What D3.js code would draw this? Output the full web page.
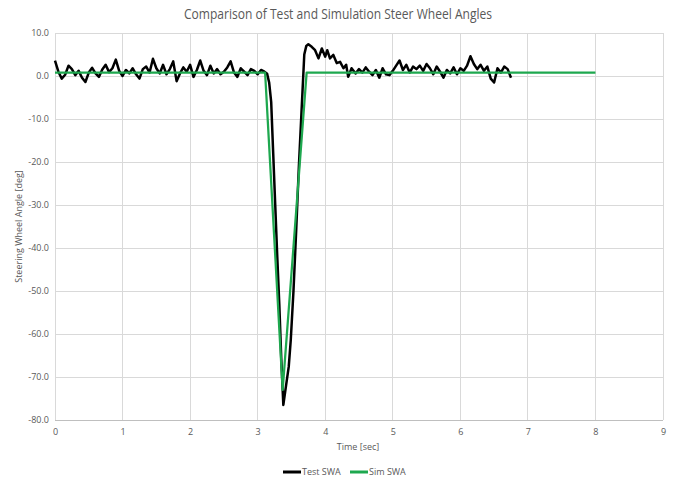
<!DOCTYPE html>
<html>
<head>
<meta charset="utf-8">
<script src="https://cdn.jsdelivr.net/npm/d3@7"></script>
<style>
  body { margin: 0; background: #fff; }
  text { font-family: "Open Sans", "Liberation Sans", sans-serif; fill: #595959; }
</style>
</head>
<body>
<script>
// data
var testTime = [
  0, 0.05, 0.1, 0.15, 0.2, 0.25, 0.3, 0.35, 0.4, 0.45, 0.5, 0.55, 0.6, 0.65, 0.7, 0.75, 0.8, 0.85, 0.9, 0.95,
  1.0, 1.05, 1.1, 1.15, 1.2, 1.25, 1.3, 1.35, 1.4, 1.45, 1.5, 1.55, 1.6, 1.65, 1.7, 1.75, 1.8, 1.85, 1.9, 1.95,
  2.0, 2.05, 2.1, 2.15, 2.2, 2.25, 2.3, 2.35, 2.4, 2.45, 2.5, 2.55, 2.6, 2.65, 2.7, 2.75, 2.8, 2.85, 2.9, 2.95,
  3.0, 3.05, 3.1, 3.14, 3.17, 3.2, 3.23, 3.26, 3.29, 3.32, 3.35, 3.38, 3.42, 3.46, 3.49, 3.53, 3.57, 3.61, 3.65,
  3.69, 3.72, 3.75, 3.8, 3.85, 3.9, 3.95, 4.0, 4.03, 4.07, 4.12, 4.17, 4.22, 4.27, 4.31, 4.34, 4.39,
  4.45, 4.5, 4.55, 4.6, 4.65, 4.7, 4.75, 4.8, 4.85, 4.9, 4.95, 5.0, 5.05, 5.1, 5.15, 5.2, 5.25, 5.3, 5.35, 5.4,
  5.45, 5.5, 5.55, 5.6, 5.65, 5.7, 5.75, 5.8, 5.85, 5.9, 5.95, 6.0, 6.05, 6.1, 6.15, 6.2, 6.25, 6.3, 6.35, 6.4,
  6.45, 6.5, 6.55, 6.6, 6.65, 6.7, 6.75
];
var testSWA = [
  3.6, 1.0, -0.6, 0.3, 2.4, 1.6, 0.2, 1.2, -0.4, -1.4, 0.8, 1.9, 0.6, -0.2, 1.5, 2.6, 0.9, 1.8, 3.8, 1.2,
  0.0, 1.4, 0.6, 1.8, 0.4, -0.6, 1.6, 2.2, 0.8, 4.0, 1.8, 0.6, 2.6, 0.4, 1.6, 3.4, -1.2, 0.6, 2.0, 1.0,
  2.6, -0.2, 1.4, 3.6, 1.2, 0.2, 2.4, 0.6, 1.6, 0.4, 1.0, 2.0, 3.4, 0.8, -0.2, 1.8, 1.0, 0.2, 1.6, 1.2,
  0.4, 1.4, 1.0, 0.5, -1.5, -6, -18, -30, -42, -53, -66, -76.5, -72, -67.6, -61.4, -50, -36, -21, -8,
  5, 7, 7.4, 6.8, 6.0, 4.1, 6.4, 4.5, 6.0, 4.1, 4.9, 3.0, 3.3, 1.8, 2.6, -0.2, 1.8,
  0.6, 1.6, 0.8, 2.0, 1.0, 0.2, 1.4, -0.4, 1.8, 0.4, 0.2, 1.2, 2.4, 3.6, 1.4, 2.6, 0.8, 2.2, 1.6, 2.4,
  1.2, 2.8, 1.8, 0.4, 2.2, 1.0, -0.4, 1.4, 0.6, 2.0, 0.4, 1.8, 1.2, 2.4, 4.6, 2.8, 1.6, 2.6, 1.2, 2.2,
  -0.6, -1.5, 1.8, 0.8, 2.2, 1.6, -0.4
];
var simTime = [0, 3.11, 3.37, 3.725, 8];
var simSWA = [0.8, 0.8, -73, 0.8, 0.8];

var xTicks = [0, 1, 2, 3, 4, 5, 6, 7, 8, 9];
var yTicks = [10, 0, -10, -20, -30, -40, -50, -60, -70, -80];

var seriesNames = ["Test SWA", "Sim SWA"];
var seriesColors = ["#000000", "#1ea84f"];

var margin = {top: 33, right: 10, bottom: 60, left: 55},
    width = 673 - margin.left - margin.right,
    height = 480 - margin.top - margin.bottom;

var root = d3.select("body").append("svg")
    .attr("width", 673)
    .attr("height", 480);

var svg = root.append("g")
    .attr("transform", "translate(" + margin.left + "," + margin.top + ")");

var x = d3.scaleLinear().domain([0, 9]).range([0, width]);
var y = d3.scaleLinear().domain([-80, 10]).range([height, 0]);

var fmt = function(d) { return d3.format(".1f")(d).replace("\u2212", "-"); };

// gridlines
svg.selectAll(".hgrid").data(yTicks).enter().append("line")
    .attr("x1", 0).attr("x2", width)
    .attr("y1", function(d) { return y(d); })
    .attr("y2", function(d) { return y(d); })
    .attr("stroke", function(d) { return d == -80 ? "#bfbfbf" : "#d9d9d9"; })
    .attr("stroke-width", 1)
    .attr("shape-rendering", "crispEdges");

svg.selectAll(".vgrid").data(xTicks).enter().append("line")
    .attr("y1", 0).attr("y2", height)
    .attr("x1", function(d) { return x(d); })
    .attr("x2", function(d) { return x(d); })
    .attr("stroke", "#d9d9d9")
    .attr("stroke-width", 1)
    .attr("shape-rendering", "crispEdges");

// axes
var yAxis = svg.append("g")
    .call(d3.axisLeft(y).tickValues(yTicks).tickFormat(fmt).tickSize(0).tickPadding(6));
yAxis.select(".domain").remove();
yAxis.selectAll("text").style("font-size", "9px").attr("fill", "#595959");

var xAxis = svg.append("g")
    .attr("transform", "translate(0," + height + ")")
    .call(d3.axisBottom(x).tickValues(xTicks).tickFormat(d3.format("d")).tickSize(0).tickPadding(9));
xAxis.select(".domain").remove();
xAxis.selectAll("text").style("font-size", "9px").attr("fill", "#595959");

// lines
var line = d3.line()
    .x(function(d) { return x(d[0]); })
    .y(function(d) { return y(d[1]); });

svg.append("path")
    .datum(d3.zip(testTime, testSWA))
    .attr("fill", "none")
    .attr("stroke", seriesColors[0])
    .attr("stroke-width", 2.5)
    .attr("stroke-linejoin", "round")
    .attr("d", line);

svg.append("path")
    .datum(d3.zip(simTime, simSWA))
    .attr("fill", "none")
    .attr("stroke", seriesColors[1])
    .attr("stroke-width", 2.25)
    .attr("stroke-linejoin", "round")
    .attr("d", line);

// title
root.append("text")
    .attr("x", 338)
    .attr("y", 19)
    .attr("text-anchor", "middle")
    .attr("textLength", 308)
    .attr("lengthAdjust", "spacingAndGlyphs")
    .style("font-size", "14px")
    .text("Comparison of Test and Simulation Steer Wheel Angles");

// axis titles
root.append("text")
    .attr("transform", "translate(22," + (margin.top + height / 2) + ") rotate(-90)")
    .attr("text-anchor", "middle")
    .style("font-size", "9px")
    .text("Steering Wheel Angle [deg]");

root.append("text")
    .attr("x", 358)
    .attr("y", 450)
    .attr("text-anchor", "middle")
    .style("font-size", "9px")
    .text("Time [sec]");

// legend
var legX = [283, 350];
seriesNames.forEach(function(name, i) {
  var g = root.append("g").attr("transform", "translate(" + legX[i] + ",472)");
  g.append("line")
      .attr("x1", 0).attr("x2", 18)
      .attr("y1", 0).attr("y2", 0)
      .attr("stroke", seriesColors[i])
      .attr("stroke-width", 3);
  g.append("text")
      .attr("x", 19)
      .attr("y", 3)
      .style("font-size", "9px")
      .text(name);
});
</script>
</body>
</html>
